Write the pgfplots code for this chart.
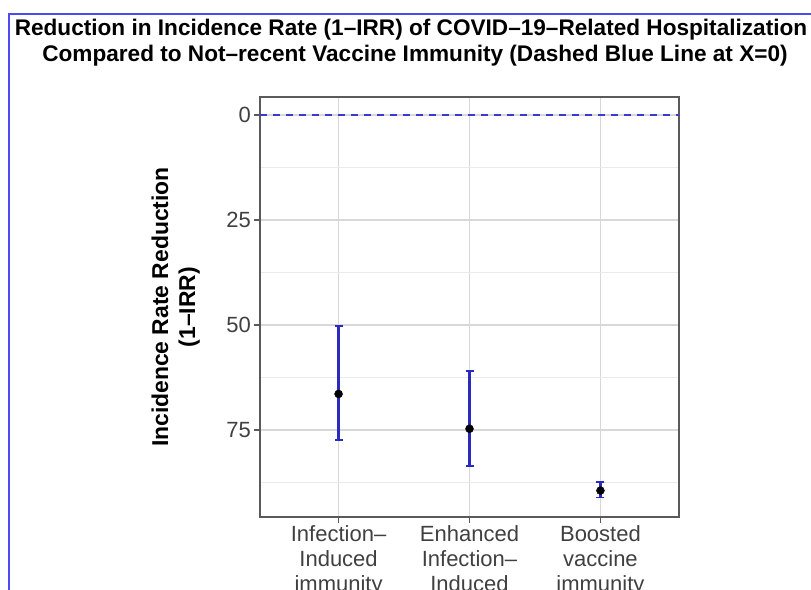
\documentclass[border=0pt]{standalone}
\usepackage{fontspec}
\setmainfont{Liberation Sans}
\usepackage{pgfplots}
\pgfplotsset{compat=1.18}
\usepackage{pgfplotstable}

\definecolor{ebar}{HTML}{2A2ABF}
\definecolor{zline}{HTML}{3A3AD0}
\definecolor{frameblue}{HTML}{4B4BF0}
\definecolor{ticktext}{HTML}{404040}
\definecolor{border}{HTML}{5A5A5A}
\definecolor{gmajor}{HTML}{D8D8D8}
\definecolor{gminor}{HTML}{EAEAEA}

% estimate, lower and upper limit of 1-IRR (in %)
\pgfplotstableread{
x  y     ep    em
1  66.4  11.0  16.2
2  74.7  8.8   13.7
3  89.4  1.7   2.1
}\irr

\begin{document}
\begin{tikzpicture}
\useasboundingbox (0pt,0pt) rectangle (811pt,-589pt);
\draw[frameblue, line width=1.6pt] (9pt,-600pt) -- (9pt,-14pt) -- (830pt,-14pt);
\node[anchor=base, inner sep=0, font=\fontsize{22.6}{27}\selectfont\bfseries]
  at (411pt,-35pt) {Reduction in Incidence Rate (1–IRR) of COVID–19–Related Hospitalization};
\node[anchor=base, inner sep=0, font=\fontsize{22.6}{27}\selectfont\bfseries]
  at (415pt,-61pt) {Compared to Not–recent Vaccine Immunity (Dashed Blue Line at X=0)};
\begin{axis}[
    at={(260pt,-517pt)}, anchor=south west,
    width=419pt, height=420pt, scale only axis,
    xmin=0.4, xmax=3.6, ymin=-4.3, ymax=95.7, y dir=reverse,
    xtick={1,2,3},
    xticklabels={{Infection–\\Induced\\immunity},
                 {Enhanced\\Infection–\\Induced\\immunity},
                 {Boosted\\vaccine\\immunity}},
    ytick={0,25,50,75}, minor ytick={12.5,37.5,62.5,87.5},
    xmajorgrids, ymajorgrids, yminorgrids,
    major grid style={gmajor, line width=1.6pt},
    minor grid style={gminor, line width=1.1pt},
    tick align=outside, major tick length=6pt, minor tick length=0pt,
    xtick pos=bottom, ytick pos=left,
    tick style={border, line width=1.2pt},
    axis line style={border, line width=1.4pt},
    tick label style={font=\fontsize{22}{25}\selectfont, text=ticktext, inner sep=0pt},
    xticklabel style={align=center, yshift=-2pt},
    yticklabel style={xshift=-3pt},
    /pgf/number format/assume math mode=true,
    ylabel={Incidence Rate Reduction\\(1–IRR)},
    ylabel style={align=center, font=\fontsize{22.9}{27}\selectfont\bfseries,
                  inner sep=0pt, at={(axis description cs:-0.143,0.5)}, anchor=south},
  ]
  \addplot[zline, line width=1.8pt, dash pattern=on 7pt off 6pt, forget plot]
    coordinates {(0.4,0) (3.6,0)};
  \addplot[only marks, mark=*, mark size=4pt, mark options={black, fill=black},
    error bars/.cd, y dir=both, y explicit,
    error bar style={ebar, line width=2.6pt},
    error mark options={ebar, rotate=90, mark size=4pt, line width=1.6pt}]
    table[x=x, y=y, y error plus=ep, y error minus=em] {\irr};
\end{axis}
\end{tikzpicture}
\end{document}
